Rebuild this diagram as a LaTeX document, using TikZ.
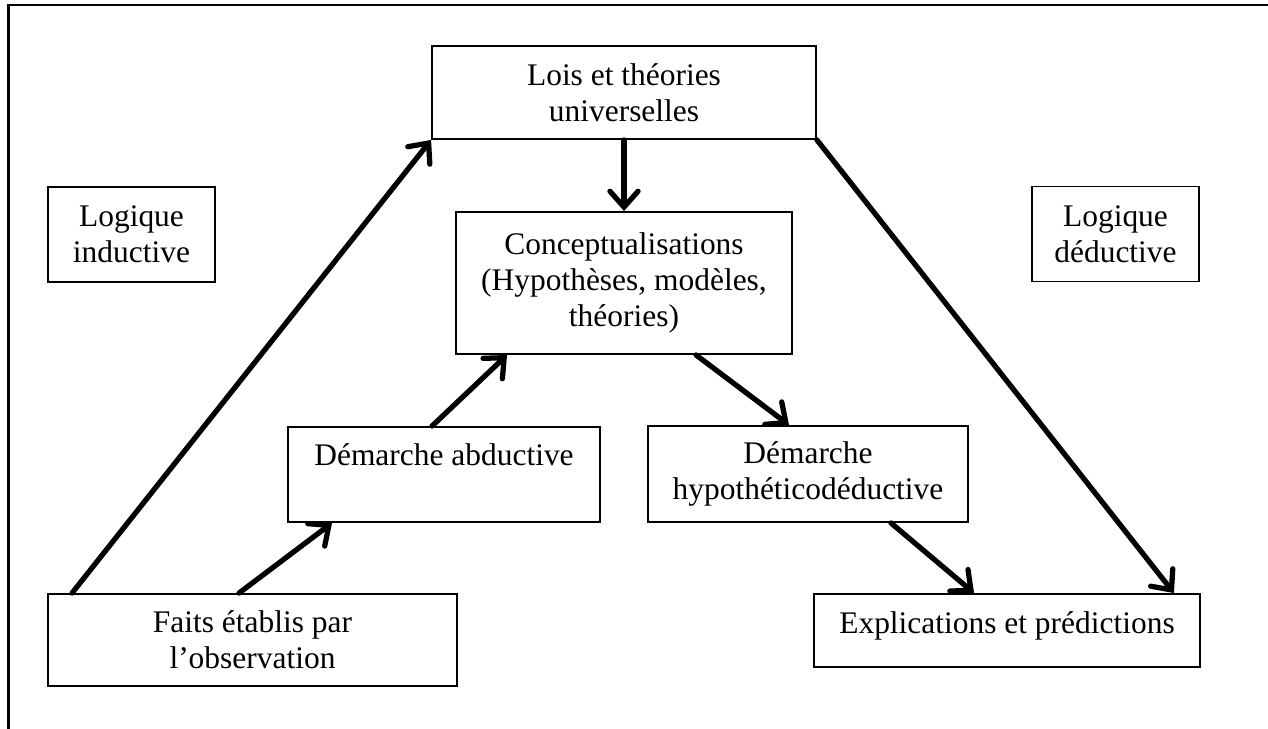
\documentclass[tikz,border=0pt]{standalone}
\usepackage{fontspec}
\setmainfont{Liberation Serif}
\usepackage{tikz}
\usetikzlibrary{arrows.meta}
\usetikzlibrary{positioning}
\tikzset{
    box/.style={draw=black, line width=1.1pt, rectangle, inner sep=0pt, align=center,
        font=\fontsize{17.9pt}{20.5pt}\selectfont},
    flow/.style={draw=black, line width=3pt, line cap=round,
        -{Straight Barb[length=9pt,width=16pt,line cap=round]}},
    frame/.style={draw=black, line width=1.7pt},
}

\begin{document}
\begin{tikzpicture}[x=0.02cm, y=-0.02cm]
	\useasboundingbox (0,0) rectangle (1268,729);
	\draw[frame] (8.7,729) -- (8.7,5) -- (1268,5);
	% boxes
	\node[box, minimum width=7.68cm, minimum height=1.86cm] (lois) at (624,92.5) {Lois et théories\\universelles};
	\node[box, minimum width=3.34cm, minimum height=1.9cm] (induct) at (131.5,234.5) {Logique\\inductive};
	\node[box, minimum width=3.34cm, minimum height=1.9cm] (deduct) at (1115.5,234) {Logique\\déductive};
	\node[box, minimum width=6.72cm, minimum height=2.84cm] (concept) at (624,283) {Conceptualisations\\(Hypothèses, modèles,\\théories)};
	\node[box, minimum width=6.24cm, minimum height=1.9cm, text height=0.43cm, text depth=0.81cm] (abduct) at (444,474.5) {Démarche abductive};
	\node[box, minimum width=6.4cm, minimum height=1.92cm] (hypo) at (808,474) {Démarche\\hypothéticodéductive};
	\node[box, minimum width=8.18cm, minimum height=1.84cm] (faits) at (252.5,640) {Faits établis par\\l’observation};
	\node[box, minimum width=7.72cm, minimum height=1.46cm, text height=0.43cm, text depth=0.33cm] (expl) at (1007,630.5) {Explications et prédictions};
	% arrows
	\draw[flow] ([xshift=0.5cm]faits.north west) -- (lois.south west);
	\draw[flow] ([xshift=3.84cm]faits.north west) -- ([xshift=0.9cm]abduct.south west);
	\draw[flow] ([xshift=2.9cm]abduct.north west) -- ([xshift=1.04cm]concept.south west);
	\draw[flow] (lois.south) -- (concept.north);
	\draw[flow] ([xshift=4.82cm]concept.south west) -- ([xshift=2.84cm]hypo.north west);
	\draw[flow] ([xshift=-1.56cm]hypo.south east) -- ([xshift=3.22cm]expl.north west);
	\draw[flow] (lois.south east) -- ([xshift=-0.54cm]expl.north east);
\end{tikzpicture}
\end{document}
